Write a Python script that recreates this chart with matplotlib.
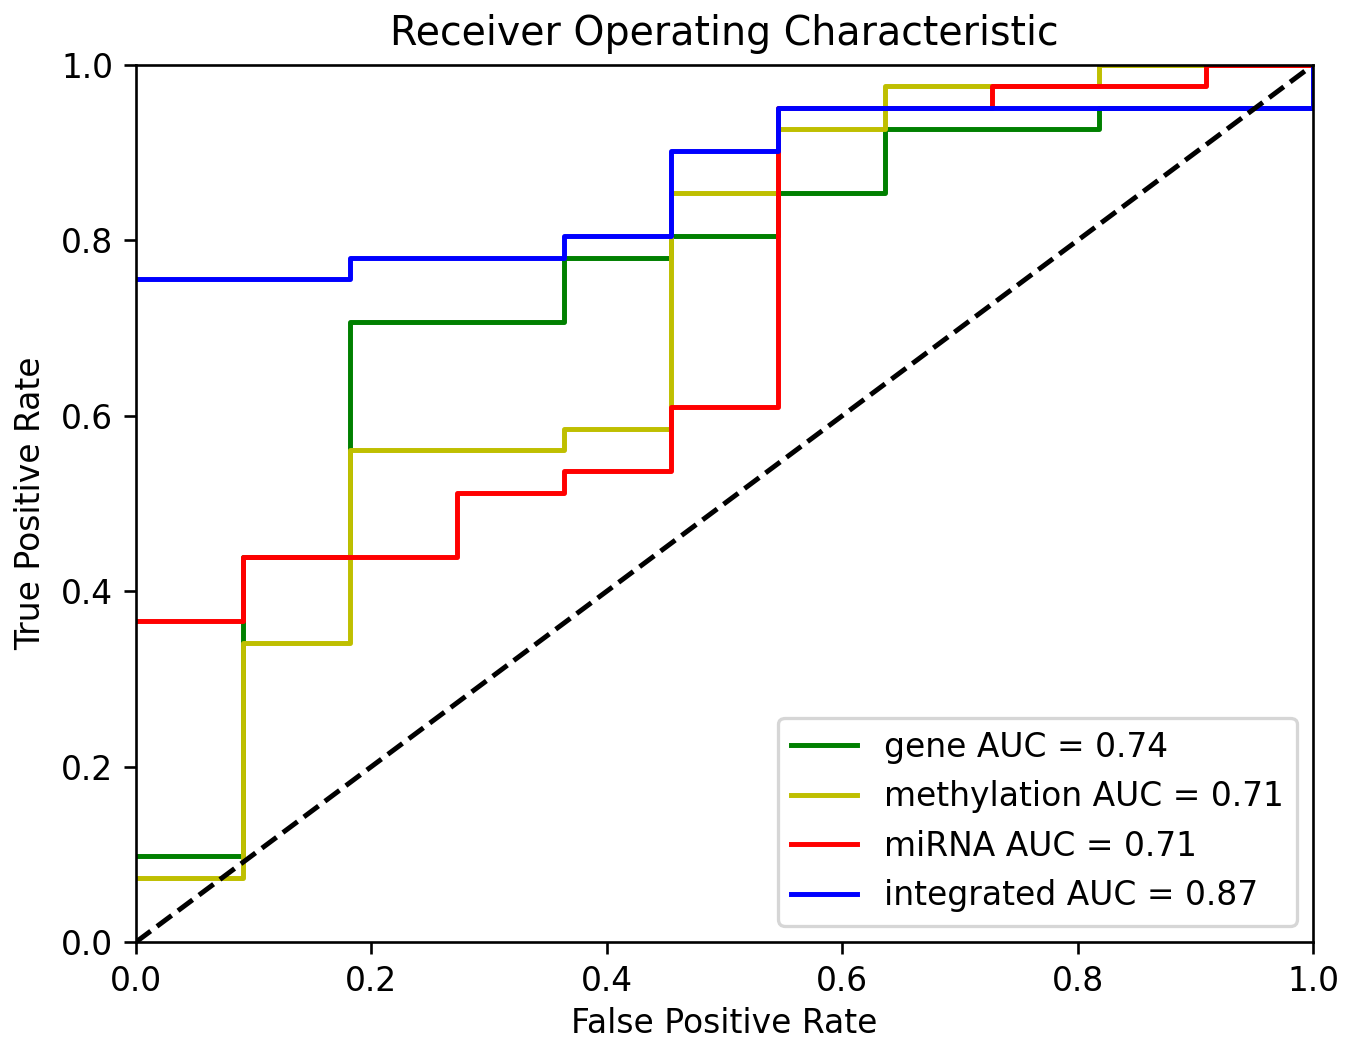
import matplotlib
matplotlib.use("Agg")
import matplotlib.pyplot as plt

# ROC curve data
gene_fpr = [0.0, 0.0909, 0.0909, 0.1818, 0.1818, 0.3636, 0.3636, 0.4545, 0.4545, 0.5455, 0.5455, 0.6364, 0.6364, 0.8182, 0.8182, 1.0, 1.0]
gene_tpr = [0.098, 0.098, 0.439, 0.439, 0.707, 0.707, 0.780, 0.780, 0.805, 0.805, 0.854, 0.854, 0.927, 0.927, 0.951, 0.951, 1.0]

meth_fpr = [0.0, 0.0909, 0.0909, 0.1818, 0.1818, 0.3636, 0.3636, 0.4545, 0.4545, 0.5455, 0.5455, 0.6364, 0.6364, 0.8182, 0.8182, 1.0]
meth_tpr = [0.073, 0.073, 0.341, 0.341, 0.561, 0.561, 0.585, 0.585, 0.854, 0.854, 0.927, 0.927, 0.976, 0.976, 1.0, 1.0]

mirna_fpr = [0.0, 0.0909, 0.0909, 0.2727, 0.2727, 0.3636, 0.3636, 0.4545, 0.4545, 0.5455, 0.5455, 0.7273, 0.7273, 0.9091, 0.9091, 1.0]
mirna_tpr = [0.366, 0.366, 0.439, 0.439, 0.512, 0.512, 0.537, 0.537, 0.610, 0.610, 0.951, 0.951, 0.976, 0.976, 1.0, 1.0]

integ_fpr = [0.0, 0.1818, 0.1818, 0.3636, 0.3636, 0.4545, 0.4545, 0.5455, 0.5455, 1.0, 1.0]
integ_tpr = [0.756, 0.756, 0.780, 0.780, 0.805, 0.805, 0.902, 0.902, 0.951, 0.951, 1.0]

labels = ["gene AUC = 0.74", "methylation AUC = 0.71", "miRNA AUC = 0.71", "integrated AUC = 0.87"]
colors = ["g", "y", "r", "b"]

ticks = [0.0, 0.2, 0.4, 0.6, 0.8, 1.0]

fig = plt.figure(figsize=(1358 / 237, 1040 / 237), dpi=237)
ax = fig.add_axes([136 / 1358, 1 - 942 / 1040, (1313 - 136) / 1358, (942 - 65) / 1040])

series = [(gene_fpr, gene_tpr), (meth_fpr, meth_tpr), (mirna_fpr, mirna_tpr), (integ_fpr, integ_tpr)]
for (x, y), lab, c in zip(series, labels, colors):
    ax.plot(x, y, c, label=lab)

ax.plot([0, 1], [0, 1], 'k--')
ax.set_xlim(0, 1)
ax.set_ylim(0, 1)
ax.set_xticks(ticks)
ax.set_yticks(ticks)
ax.set_title("Receiver Operating Characteristic")
ax.set_xlabel("False Positive Rate", labelpad=2.6)
ax.set_ylabel("True Positive Rate")
ax.legend(loc="lower right")

fig.savefig("out.png", dpi=237)
